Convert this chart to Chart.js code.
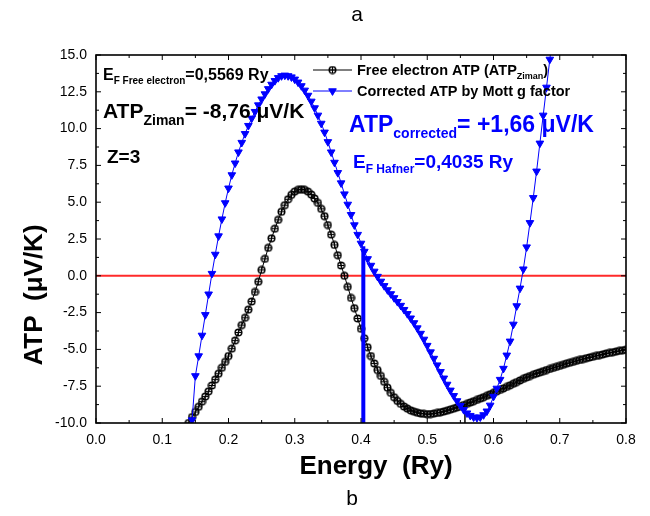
<!DOCTYPE html>
<html>
<head>
<meta charset="utf-8">
<script src="https://cdn.jsdelivr.net/npm/chart.js@4.4.1/dist/chart.umd.min.js"></script>
<style>
  html, body { margin: 0; padding: 0; background: #fff; }
  #wrap { width: 650px; height: 516px; }
</style>
</head>
<body>
<div id="wrap"><canvas id="myChart" width="650" height="516"></canvas></div>
<script>
// energy grid (Ry)
const energy = [
  0.140,0.145,0.150,0.155,0.160,0.165,0.170,0.175,0.180,0.185,
  0.190,0.195,0.200,0.205,0.210,0.215,0.220,0.225,0.230,0.235,
  0.240,0.245,0.250,0.255,0.260,0.265,0.270,0.275,0.280,0.285,
  0.290,0.295,0.300,0.305,0.310,0.315,0.320,0.325,0.330,0.335,
  0.340,0.345,0.350,0.355,0.360,0.365,0.370,0.375,0.380,0.385,
  0.390,0.395,0.400,0.405,0.410,0.415,0.420,0.425,0.430,0.435,
  0.440,0.445,0.450,0.455,0.460,0.465,0.470,0.475,0.480,0.485,
  0.490,0.495,0.500,0.505,0.510,0.515,0.520,0.525,0.530,0.535,
  0.540,0.545,0.550,0.555,0.560,0.565,0.570,0.575,0.580,0.585,
  0.590,0.595,0.600,0.605,0.610,0.615,0.620,0.625,0.630,0.635,
  0.640,0.645,0.650,0.655,0.660,0.665,0.670,0.675,0.680,0.685,
  0.690,0.695,0.700,0.705,0.710,0.715,0.720,0.725,0.730,0.735,
  0.740,0.745,0.750,0.755,0.760,0.765,0.770,0.775,0.780,0.785,
  0.790,0.795,0.800
];

// Free electron ATP (ATP Ziman), uV/K
const atpZiman = [
  -10.0,-9.6,-9.25,-8.9,-8.55,-8.2,-7.85,-7.45,-7.05,-6.65,
  -6.25,-5.85,-5.45,-4.95,-4.4,-3.85,-3.35,-2.85,-2.3,-1.75,
  -1.1,-0.4,0.4,1.15,1.9,2.55,3.2,3.8,4.35,4.8,
  5.2,5.5,5.72,5.84,5.88,5.84,5.72,5.52,5.25,4.95,
  4.55,4.05,3.45,2.8,2.1,1.4,0.7,0.0,-0.75,-1.5,
  -2.2,-2.9,-3.6,-4.25,-4.85,-5.45,-5.95,-6.4,-6.8,-7.2,
  -7.6,-7.95,-8.25,-8.5,-8.7,-8.88,-9.02,-9.14,-9.23,-9.3,
  -9.35,-9.38,-9.4,-9.39,-9.36,-9.32,-9.27,-9.22,-9.16,-9.09,
  -9.02,-8.94,-8.86,-8.78,-8.7,-8.61,-8.52,-8.43,-8.34,-8.25,
  -8.15,-8.05,-7.95,-7.85,-7.75,-7.65,-7.55,-7.44,-7.33,-7.22,
  -7.11,-7.0,-6.9,-6.81,-6.72,-6.64,-6.56,-6.48,-6.4,-6.33,
  -6.26,-6.19,-6.12,-6.05,-5.97,-5.91,-5.85,-5.78,-5.72,-5.66,
  -5.6,-5.55,-5.5,-5.44,-5.39,-5.34,-5.28,-5.24,-5.19,-5.15,
  -5.1,-5.06,-5.02
];

// Corrected ATP by Mott g factor, uV/K
const atpMott = [
  null,-9.8,-6.8,-5.45,-4.05,-2.65,-1.25,0.15,1.45,2.7,
  3.85,4.95,5.95,6.85,7.65,8.4,9.05,9.65,10.2,10.7,
  11.15,11.6,12.0,12.35,12.7,13.0,13.25,13.45,13.58,13.62,
  13.58,13.5,13.35,13.15,12.9,12.6,12.25,11.85,11.4,10.9,
  10.35,9.75,9.1,8.4,7.7,7.0,6.3,5.55,4.85,4.15,
  3.45,2.8,2.2,1.65,1.15,0.7,0.3,-0.05,-0.38,-0.68,
  -0.96,-1.23,-1.5,-1.76,-2.02,-2.3,-2.58,-2.88,-3.2,-3.55,
  -3.92,-4.32,-4.74,-5.18,-5.62,-6.07,-6.52,-6.96,-7.38,-7.78,
  -8.15,-8.5,-8.82,-9.1,-9.33,-9.5,-9.6,-9.64,-9.6,-9.45,
  -9.2,-8.8,-8.2,-7.65,-7.05,-6.3,-5.4,-4.45,-3.3,-2.05,
  -0.85,0.45,1.95,3.6,5.3,7.1,9.0,10.9,12.8,14.7,
  16.6,null,null,null,null,null,null,null,null,null,
  null,null,null,null,null,null,null,null,null,null,
  null,null,null
];

// Fermi energies and the vertical markers
const efHafner = 0.4035;
const efFree = 0.5569;
const hafnerMark = [-10, 2.0];
const freeMark = [-10, -8.72];
const zeroLine = [0.0, 0.8];

const xTicks = [0.0, 0.8, 0.1];
const yTicks = [-10, 15, 2.5];

const FONT = '"Liberation Sans", Arial, Helvetica, sans-serif';
const BLUE = '#0000ff';

function pts(xs, ys) {
  const out = [];
  xs.forEach((x, i) => { if (ys[i] !== null) out.push({x: x, y: ys[i]}); });
  return out;
}

// circle-with-cross marker like the original
function crossCircle() {
  const c = document.createElement('canvas');
  c.width = 9; c.height = 9;
  const g = c.getContext('2d');
  g.strokeStyle = '#000';
  g.lineWidth = 1.5;
  g.beginPath(); g.arc(4.5, 4.5, 3.3, 0, Math.PI * 2); g.stroke();
  g.lineWidth = 1.1;
  g.beginPath();
  g.moveTo(4.5, 1.2); g.lineTo(4.5, 7.8);
  g.moveTo(1.2, 4.5); g.lineTo(7.8, 4.5);
  g.stroke();
  return c;
}
const blackMarker = crossCircle();

function rich(ctx, x, y, parts, color) {
  ctx.fillStyle = color;
  ctx.textAlign = 'left';
  ctx.textBaseline = 'alphabetic';
  parts.forEach(p => {
    ctx.font = 'bold ' + p.s + 'px ' + FONT;
    ctx.fillText(p.t, x, y + (p.dy || 0));
    x += ctx.measureText(p.t).width;
  });
  return x;
}

const decor = {
  id: 'decor',
  afterDatasetsDraw(chart) {
    const {ctx, chartArea: a, scales: {x, y}} = chart;
    ctx.save();
    ctx.strokeStyle = '#000';
    ctx.lineWidth = 1.6;
    ctx.strokeRect(a.left, a.top, a.right - a.left, a.bottom - a.top);
    ctx.lineWidth = 1;
    ctx.beginPath();
    x.ticks.forEach((t, i) => {
      const px = x.getPixelForValue(t.value);
      ctx.moveTo(px, a.bottom); ctx.lineTo(px, a.bottom - 5);
      ctx.moveTo(px, a.top); ctx.lineTo(px, a.top + 5);
      if (i < x.ticks.length - 1) {
        const mx = x.getPixelForValue((t.value + x.ticks[i + 1].value) / 2);
        ctx.moveTo(mx, a.bottom); ctx.lineTo(mx, a.bottom - 3);
        ctx.moveTo(mx, a.top); ctx.lineTo(mx, a.top + 3);
      }
    });
    y.ticks.forEach((t, i) => {
      const py = y.getPixelForValue(t.value);
      ctx.moveTo(a.left, py); ctx.lineTo(a.left + 5, py);
      ctx.moveTo(a.right, py); ctx.lineTo(a.right - 5, py);
      if (i < y.ticks.length - 1) {
        const my = y.getPixelForValue((t.value + y.ticks[i + 1].value) / 2);
        ctx.moveTo(a.left, my); ctx.lineTo(a.left + 3, my);
        ctx.moveTo(a.right, my); ctx.lineTo(a.right - 3, my);
      }
    });
    ctx.stroke();
    ctx.restore();
  },
  afterDraw(chart) {
    const {ctx} = chart;
    ctx.save();
    // panel letters
    ctx.fillStyle = '#000';
    ctx.font = '21px ' + FONT;
    ctx.textAlign = 'center';
    ctx.fillText('a', 357, 21);
    ctx.fillText('b', 352, 505);
    // axis titles
    ctx.font = 'bold 26px ' + FONT;
    ctx.fillText('Energy  (Ry)', 376, 474);
    ctx.save();
    ctx.translate(42, 295);
    ctx.rotate(-Math.PI / 2);
    ctx.fillText('ATP  (\u03bcV/K)', 0, 0);
    ctx.restore();

    // annotations, black
    rich(ctx, 103, 80, [
      {t: 'E', s: 16}, {t: 'F Free electron', s: 10, dy: 4}, {t: '=0,5569 Ry', s: 16}
    ], '#000');
    rich(ctx, 103, 118, [
      {t: 'ATP', s: 21}, {t: 'Ziman', s: 14, dy: 7}, {t: '= -8,76 \u03bcV/K', s: 21}
    ], '#000');
    rich(ctx, 107, 163, [{t: 'Z=3', s: 19}], '#000');

    // annotations, blue
    rich(ctx, 349, 132, [
      {t: 'ATP', s: 23}, {t: 'corrected', s: 14, dy: 6}, {t: '= +1,66 \u03bcV/K', s: 23}
    ], BLUE);
    rich(ctx, 353, 168, [
      {t: 'E', s: 19}, {t: 'F Hafner', s: 12, dy: 5}, {t: '=0,4035 Ry', s: 19}
    ], BLUE);

    // legend
    const ds = chart.data.datasets;
    const rows = [
      {d: ds[2], y: 70, parts: [{t: 'Free electron ATP (ATP', s: 14.5}, {t: 'Ziman', s: 9, dy: 4}, {t: ')', s: 14.5}]},
      {d: ds[1], y: 91, parts: [{t: 'Corrected ATP by Mott g factor', s: 14.5}]}
    ];
    rows.forEach(r => {
      ctx.strokeStyle = r.d.borderColor;
      ctx.lineWidth = 1;
      ctx.beginPath(); ctx.moveTo(313, r.y); ctx.lineTo(352, r.y); ctx.stroke();
      ctx.fillStyle = r.d.borderColor;
      Chart.helpers.drawPoint(ctx, {
        pointStyle: r.d.pointStyle, rotation: r.d.pointRotation || 0,
        radius: r.d.pointRadius, borderWidth: 1
      }, 332.5, r.y);
      rich(ctx, 357, r.y + 5, r.parts, '#000');
    });
    ctx.restore();
  }
};

const ctx = document.getElementById('myChart');

new Chart(ctx, {
  type: 'scatter',
  data: {
    datasets: [
      { // E_F Hafner marker
        data: hafnerMark.map(v => ({x: efHafner, y: v})),
        showLine: true, borderColor: BLUE, borderWidth: 4, pointRadius: 0, order: 0
      },
      {
        label: 'Corrected ATP by Mott g factor',
        data: pts(energy, atpMott),
        showLine: true, borderColor: BLUE, borderWidth: 1,
        pointStyle: 'triangle', pointRotation: 180, pointRadius: 4.4,
        pointBackgroundColor: BLUE, pointBorderColor: BLUE, pointBorderWidth: 1,
        order: 1
      },
      {
        label: 'Free electron ATP (ATP Ziman)',
        data: pts(energy, atpZiman),
        showLine: true, borderColor: '#000', borderWidth: 1,
        pointStyle: blackMarker, pointRadius: 4.5,
        order: 2
      },
      { // E_F free electron marker
        data: freeMark.map(v => ({x: efFree, y: v})),
        showLine: true, borderColor: '#000', borderWidth: 1.5, pointRadius: 0, order: 3
      },
      { // zero line
        data: zeroLine.map(v => ({x: v, y: 0})),
        showLine: true, borderColor: '#ff2a2a', borderWidth: 2, pointRadius: 0, order: 4
      }
    ]
  },
  options: {
    responsive: false,
    animation: false,
    layout: { padding: { top: 55, right: 24, left: 0, bottom: 0 } },
    plugins: { legend: { display: false }, tooltip: { enabled: false } },
    scales: {
      x: {
        type: 'linear', min: xTicks[0], max: xTicks[1],
        grid: { display: false, drawTicks: false },
        border: { display: false },
        afterFit: s => { s.height = 93; },
        ticks: {
          stepSize: xTicks[2], padding: 9, color: '#000',
          font: { family: FONT, size: 14 },
          callback: v => v.toFixed(1)
        }
      },
      y: {
        type: 'linear', min: yTicks[0], max: yTicks[1],
        grid: { display: false, drawTicks: false },
        border: { display: false },
        afterFit: s => { s.width = 96; },
        ticks: {
          stepSize: yTicks[2], padding: 9, color: '#000',
          font: { family: FONT, size: 14 },
          callback: v => v.toFixed(1)
        }
      }
    }
  },
  plugins: [decor]
});
</script>
</body>
</html>
